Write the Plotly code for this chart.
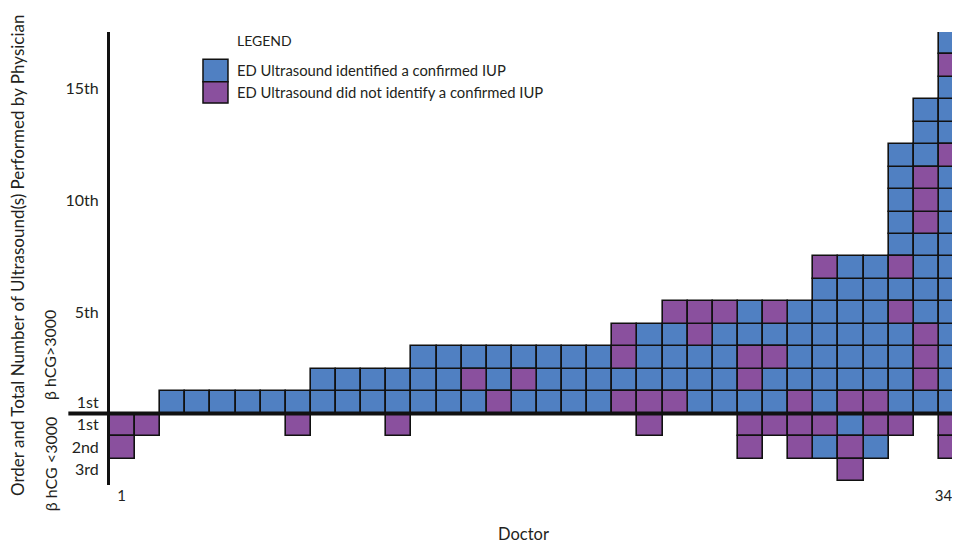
import plotly.graph_objects as go

# ---- data ----
doctors = list(range(1, 35))
# outcome of each ultrasound in order (B = identified confirmed IUP, P = did not)
above_3000 = [
    "", "", "B", "B", "B", "B", "B", "B", "BB", "BB", "BB", "BB",
    "BBB", "BBB", "BPB", "PBB", "BPB", "BBB", "BBB", "BBB",
    "PBPP", "PBBB", "PBBBP", "BBBPP", "BBBBP", "BPPBB", "BBPBP", "PBBBB",
    "BBBBBBP", "PBBBBBB", "PBBBBBB", "BBBBPBPBBBBB", "BPPPBBBBPPPBBB",
    "BBBBBBBBBBBPBBBPB",
]
below_3000 = [
    "PP", "P", "", "", "", "", "", "P", "", "", "", "P",
    "", "", "", "", "", "", "", "",
    "", "P", "", "", "", "PP", "P", "PP",
    "PB", "BPP", "PB", "P", "", "PP",
]
y_tick_vals = [14.5, 9.5, 4.5, 0.5, -0.5, -1.5, -2.5]
y_tick_text = ["15th", "10th", "5th", "1st", "1st", "2nd", "3rd"]
first_doctor_tick = [1]
last_doctor_tick = [34]
labels = {"B": "ED Ultrasound identified a confirmed IUP",
          "P": "ED Ultrasound did not identify a confirmed IUP"}
colors = {"B": "#5080C2", "P": "#8A509E"}

FONT = "Lato"
TXT = "#231F20"

cells = {"B": {"x": [], "base": []}, "P": {"x": [], "base": []}}
for d, up, down in zip(doctors, above_3000, below_3000):
    for i, c in enumerate(up):
        cells[c]["x"].append(d)
        cells[c]["base"].append(i)
    for i, c in enumerate(down):
        cells[c]["x"].append(d)
        cells[c]["base"].append(-(i + 1))

fig = go.Figure()
for k in ["B", "P"]:
    fig.add_trace(go.Bar(
        x=cells[k]["x"], y=[1] * len(cells[k]["x"]), base=cells[k]["base"],
        width=1, name=labels[k], marker=dict(color=colors[k], line=dict(color="#111", width=1.6)),
        cliponaxis=False, showlegend=False, hoverinfo="skip",
    ))
# invisible helper so the overlaid axis carrying the last doctor's tick is drawn
fig.add_trace(go.Scatter(x=last_doctor_tick, y=[0], xaxis="x2", mode="markers",
                         marker=dict(opacity=0), showlegend=False, hoverinfo="skip"))

xtick_common = dict(showgrid=False, zeroline=False, showline=False, ticks="",
                    tickfont=dict(size=15, family=FONT, color=TXT), ticklabelstandoff=0,
                    ticklabeloverflow="allow")

# page body adds an 8px offset, so the figure is 8px smaller on each axis
fig.update_layout(
    width=952, height=536, margin=dict(l=102, r=0, t=24, b=59),
    plot_bgcolor="white", paper_bgcolor="white", barmode="overlay", bargap=0,
    font=dict(family=FONT, color=TXT),
    xaxis=dict(range=[0.5, 34.34], tickvals=first_doctor_tick,
               ticktext=[str(v) for v in first_doctor_tick], ticklabelshift=-1, **xtick_common),
    xaxis2=dict(range=[0.5, 34.34], overlaying="x", anchor="y", side="bottom",
                tickvals=last_doctor_tick, ticktext=[str(v) for v in last_doctor_tick],
                ticklabelshift=-8, **xtick_common),
    yaxis=dict(range=[-3.18, 17], tickvals=y_tick_vals, ticktext=y_tick_text,
               showgrid=False, zeroline=False, showline=True, linecolor="#111", linewidth=3,
               ticks="", tickfont=dict(size=16, family=FONT, color=TXT), ticklabelstandoff=5),
)

# thick baseline separating the two beta-hCG groups
fig.add_shape(type="line", xref="paper", yref="y", x0=-0.049, x1=1.0, y0=0, y1=0,
              line=dict(color="#111", width=4))

# legend drawn as boxes + text
fig.add_shape(type="rect", xref="paper", yref="paper", x0=0.1094, x1=0.1388, y0=0.890, y1=0.940,
              fillcolor=colors["B"], line=dict(color="#111", width=1.5))
fig.add_shape(type="rect", xref="paper", yref="paper", x0=0.1094, x1=0.1388, y0=0.843, y1=0.890,
              fillcolor=colors["P"], line=dict(color="#111", width=1.5))
fig.add_annotation(text="LEGEND", xref="paper", yref="paper", x=0.147, y=0.982,
                   xanchor="left", yanchor="middle", showarrow=False, font=dict(size=14))
fig.add_annotation(text=labels["B"], xref="paper", yref="paper", x=0.147, y=0.916,
                   xanchor="left", yanchor="middle", showarrow=False, font=dict(size=14.8))
fig.add_annotation(text=labels["P"], xref="paper", yref="paper", x=0.147, y=0.868,
                   xanchor="left", yanchor="middle", showarrow=False, font=dict(size=14.8))

# axis titles
fig.add_annotation(text="Order and Total Number of Ultrasound(s) Performed by Physician",
                   xref="paper", yref="paper", x=-0.108, y=0.506, textangle=-90,
                   xanchor="center", yanchor="middle", showarrow=False, font=dict(size=17))
fig.add_annotation(text="β hCG>3000", xref="paper", yref="paper", x=-0.0706, y=0.287,
                   textangle=-90, xanchor="center", yanchor="middle", showarrow=False,
                   font=dict(size=16))
fig.add_annotation(text="β hCG <3000", xref="paper", yref="paper", x=-0.0706, y=0.046,
                   textangle=-90, xanchor="center", yanchor="middle", showarrow=False,
                   font=dict(size=16))
fig.add_annotation(text="Doctor", xref="paper", yref="paper", x=0.486, y=-0.108,
                   xanchor="center", yanchor="middle", showarrow=False, font=dict(size=16.5))

fig.write_html("out.html")
